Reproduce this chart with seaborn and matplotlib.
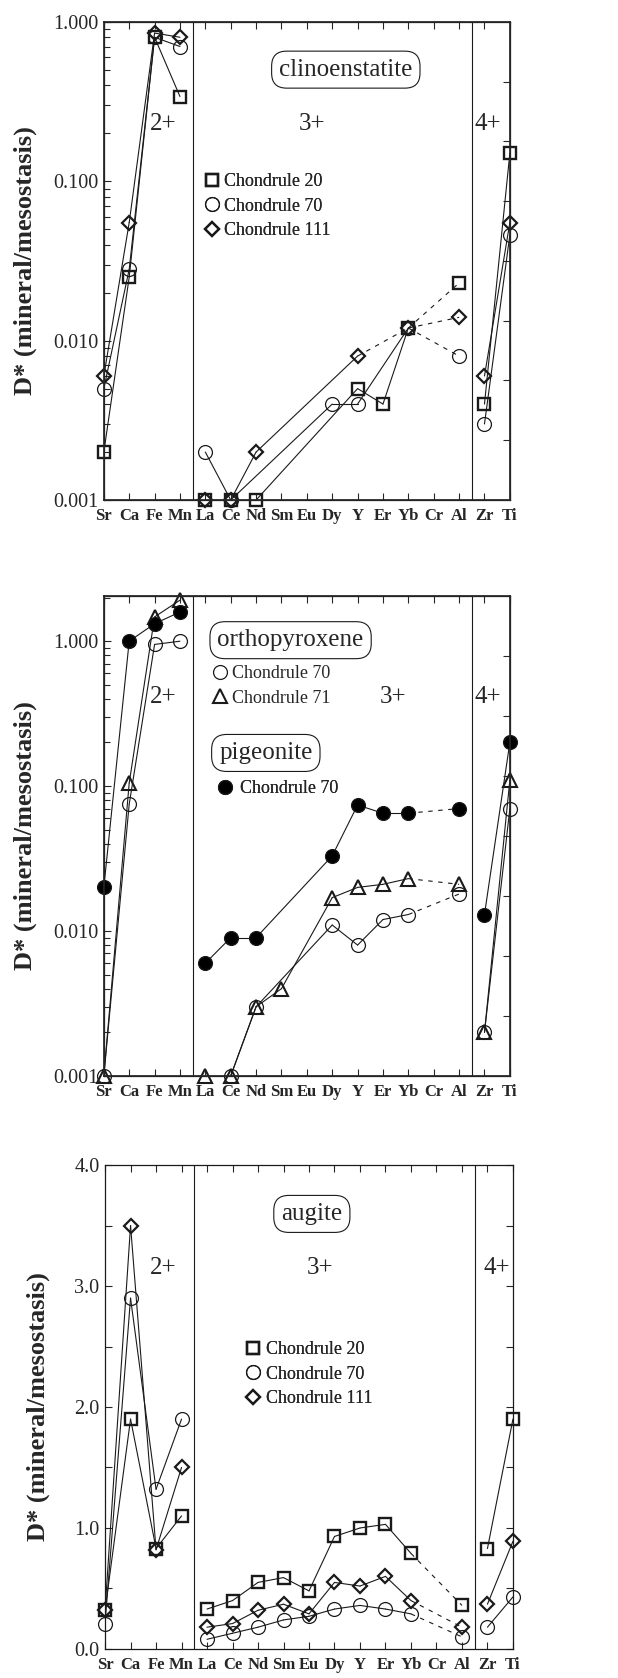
import numpy as np
import pandas as pd
import matplotlib
matplotlib.use("Agg")
import matplotlib.pyplot as plt
import seaborn as sns
from matplotlib.lines import Line2D
from matplotlib.ticker import FixedLocator, LogLocator, FormatStrFormatter, MultipleLocator, NullFormatter

nan = np.nan

elements = ["Sr", "Ca", "Fe", "Mn", "La", "Ce", "Nd", "Sm", "Eu",
            "Dy", "Y", "Er", "Yb", "Cr", "Al", "Zr", "Ti"]
# index ranges of the 2+, 3+ and 4+ groups (lines never cross groups)
groups = [(0, 3), (4, 14), (15, 16)]

# clinoenstatite
cen_20 = [0.002, 0.025, 0.80, 0.34, 0.001, 0.001, 0.001, nan, nan, nan, 0.005, 0.004, 0.012, nan, 0.023, 0.004, 0.15]
cen_70 = [0.005, 0.028, 0.80, 0.70, 0.002, 0.001, nan, nan, nan, 0.004, 0.004, nan, 0.012, nan, 0.008, 0.003, 0.046]
cen_111 = [0.006, 0.055, 0.85, 0.80, 0.001, 0.001, 0.002, nan, nan, nan, 0.008, nan, 0.012, nan, 0.014, 0.006, 0.055]
cen_20_dash = ["Al"]
cen_70_dash = ["Al"]
cen_111_dash = ["Yb", "Al"]

# orthopyroxene / pigeonite
opx_70 = [0.001, 0.075, 0.95, 1.00, nan, 0.001, 0.003, nan, nan, 0.011, 0.008, 0.012, 0.013, nan, 0.018, 0.002, 0.070]
opx_71 = [0.001, 0.105, 1.47, 1.92, 0.001, 0.001, 0.003, 0.004, nan, 0.017, 0.020, 0.021, 0.023, nan, 0.021, 0.002, 0.110]
pig_70 = [0.020, 1.00, 1.32, 1.59, 0.006, 0.009, 0.009, nan, nan, 0.033, 0.074, 0.065, 0.065, nan, 0.070, 0.013, 0.200]
opx_dash = ["Al"]

# augite
aug_20 = [0.32, 1.90, 0.83, 1.10, 0.33, 0.40, 0.55, 0.59, 0.48, 0.93, 1.00, 1.03, 0.79, nan, 0.36, 0.83, 1.90]
aug_70 = [0.21, 2.90, 1.32, 1.90, 0.08, 0.13, 0.18, 0.24, 0.27, 0.33, 0.36, 0.33, 0.29, nan, 0.10, 0.18, 0.43]
aug_111 = [0.32, 3.50, 0.82, 1.50, 0.18, 0.21, 0.32, 0.37, 0.29, 0.55, 0.52, 0.60, 0.40, nan, 0.18, 0.37, 0.89]
aug_dash = ["Al"]

SQ = dict(marker="s", ms=9, mew=1.7, mfc="none")
CI = dict(marker="o", ms=10, mew=0.9, mfc="none")
DI = dict(marker="D", ms=7, mew=1.6, mfc="none")
TR = dict(marker="^", ms=9.5, mew=1.5, mfc="none")
FC = dict(marker="o", ms=10, mew=0.9, mfc="black")

sns.set_theme(style="ticks")
plt.rcParams["font.family"] = ["Liberation Serif", "DejaVu Serif"]

fig = plt.figure(figsize=(6.18, 16.78), dpi=100)
fig.patch.set_facecolor("white")
ax1 = fig.add_axes([0.168, 0.702, 0.657, 0.285])
ax2 = fig.add_axes([0.168, 0.3588, 0.657, 0.286])
ax3 = fig.add_axes([0.170, 0.0173, 0.660, 0.2884])


def segment_table(name, vals, dashed_to):
    rows = []
    for a, b in groups:
        idx = [i for i in range(a, b + 1) if not np.isnan(vals[i])]
        for k, (i, j) in enumerate(zip(idx[:-1], idx[1:])):
            style = "dash" if elements[j] in dashed_to else "solid"
            unit = f"{name}-{a}-{k}"
            rows.append((unit, style, i, vals[i]))
            rows.append((unit, style, j, vals[j]))
    return pd.DataFrame(rows, columns=["unit", "style", "pos", "val"])


def draw(ax, series):
    df = pd.concat([segment_table(n, v, d) for n, v, d, _ in series])
    sns.lineplot(data=df[df["style"] == "solid"], x="pos", y="val", units="unit",
                 estimator=None, sort=False, color="k", lw=0.8, ax=ax, legend=False)
    sns.lineplot(data=df[df["style"] == "dash"], x="pos", y="val", units="unit",
                 estimator=None, sort=False, color="k", lw=0.8, ax=ax, legend=False,
                 linestyle=(0, (4, 5)))
    x = np.arange(len(elements))
    for n, v, d, mk in series:
        v = np.array(v)
        ok = ~np.isnan(v)
        ax.plot(x[ok], v[ok], ls="none", mec="k", clip_on=False, zorder=4, **mk)


def style_axes(ax):
    ax.set_xlim(0, len(elements) - 1)
    ax.set_xticks(range(len(elements)))
    ax.set_xticklabels(elements, fontweight="bold", fontsize=12)
    ax.tick_params(axis="x", direction="in", top=True, length=5, width=0.8, pad=6)
    ax.tick_params(axis="y", which="both", direction="in", width=0.8, labelsize=14.5, pad=4)
    ax.tick_params(axis="y", which="major", length=5)
    ax.tick_params(axis="y", which="minor", length=4)
    for s in ax.spines.values():
        s.set_linewidth(0.9)
        s.set_color("k")
    ax.axvline(3.5, color="k", lw=0.8)
    ax.axvline(14.5, color="k", lw=0.8)
    ax.set_xlabel("")
    ax.set_ylabel("D* (mineral/mesostasis)", fontsize=19, fontweight="bold")


def right_ticks(ax):
    tw = ax.twinx()
    tw.set_ylim(0, 8)
    tw.yaxis.set_major_locator(FixedLocator(range(1, 8)))
    tw.yaxis.set_major_formatter(NullFormatter())
    tw.tick_params(axis="y", direction="in", length=5, width=0.8)
    tw.grid(False)


def boxed(ax, text, x, y):
    ax.text(x, y, text, transform=ax.transAxes, ha="center", va="center", fontsize=18,
            bbox=dict(boxstyle="round,pad=0.3,rounding_size=0.6", fc="white", ec="k", lw=0.8))


def valence(ax, xs, y):
    for lab, x in zip(["2+", "3+", "4+"], xs):
        ax.text(x, y, lab, transform=ax.transAxes, ha="center", va="center", fontsize=18)


def add_legend(ax, entries, x, y, textpad=0.3):
    handles = [Line2D([], [], ls="none", mec="k", **mk) for _, mk in entries]
    leg = ax.legend(handles, [lab for lab, _ in entries], loc="upper left",
                    bbox_to_anchor=(x, y), frameon=False, fontsize=13,
                    handlelength=0.8, handletextpad=textpad, labelspacing=0.42,
                    borderpad=0, borderaxespad=0)
    ax.add_artist(leg)


def log_axis(ax, top):
    ax.set_yscale("log")
    ax.set_ylim(0.001, top)
    ax.yaxis.set_major_locator(LogLocator(base=10, numticks=10))
    ax.yaxis.set_minor_locator(LogLocator(base=10, subs=np.arange(2, 10), numticks=20))
    ax.yaxis.set_major_formatter(FormatStrFormatter("%.3f"))
    ax.yaxis.set_minor_formatter(NullFormatter())


# --- clinoenstatite
log_axis(ax1, 1.0)
draw(ax1, [("c20", cen_20, cen_20_dash, SQ),
           ("c70", cen_70, cen_70_dash, CI),
           ("c111", cen_111, cen_111_dash, DI)])
log_axis(ax1, 1.0)
style_axes(ax1)
ax1.yaxis.set_label_coords(-0.165, 0.5)
right_ticks(ax1)
boxed(ax1, "clinoenstatite", 0.596, 0.90)
valence(ax1, [0.145, 0.512, 0.946], 0.786)
add_legend(ax1, [("Chondrule 20", SQ), ("Chondrule 70", CI), ("Chondrule 111", DI)], 0.248, 0.684)

# --- orthopyroxene / pigeonite
log_axis(ax2, 2.05)
draw(ax2, [("o70", opx_70, opx_dash, CI),
           ("o71", opx_71, opx_dash, TR),
           ("p70", pig_70, opx_dash, FC)])
log_axis(ax2, 2.05)
style_axes(ax2)
ax2.yaxis.set_label_coords(-0.165, 0.5)
right_ticks(ax2)
boxed(ax2, "orthopyroxene", 0.46, 0.908)
boxed(ax2, "pigeonite", 0.399, 0.673)
valence(ax2, [0.145, 0.712, 0.946], 0.79)
add_legend(ax2, [("Chondrule 70", CI), ("Chondrule 71", TR)], 0.268, 0.856, textpad=0.25)
add_legend(ax2, [("Chondrule 70", FC)], 0.28, 0.617, textpad=0.45)

# --- augite
draw(ax3, [("a20", aug_20, aug_dash, SQ),
           ("a70", aug_70, aug_dash, CI),
           ("a111", aug_111, aug_dash, DI)])
ax3.set_ylim(0, 4)
ax3.yaxis.set_major_locator(MultipleLocator(1))
ax3.yaxis.set_minor_locator(MultipleLocator(0.5))
ax3.yaxis.set_major_formatter(FormatStrFormatter("%.1f"))
style_axes(ax3)
ax3.tick_params(axis="y", which="both", right=True)
ax3.tick_params(axis="y", which="minor", length=5)
ax3.yaxis.set_label_coords(-0.135, 0.5)
boxed(ax3, "augite", 0.507, 0.899)
valence(ax3, [0.142, 0.527, 0.961], 0.787)
add_legend(ax3, [("Chondrule 20", SQ), ("Chondrule 70", CI), ("Chondrule 111", DI)], 0.345, 0.636)

fig.savefig("out.png", dpi=100, facecolor="white")
